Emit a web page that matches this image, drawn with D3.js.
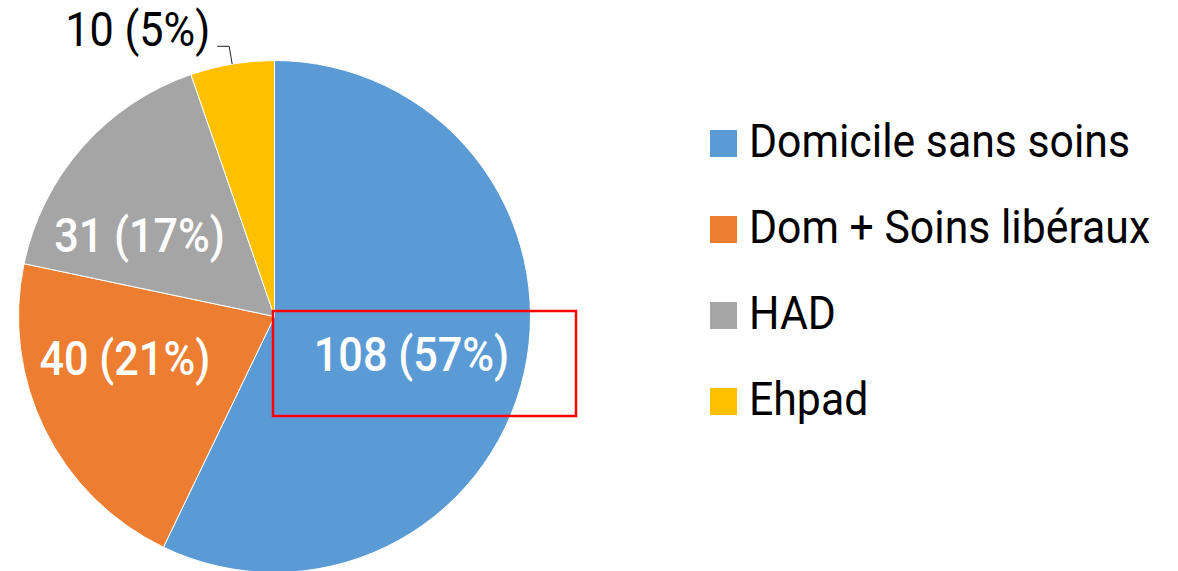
<!DOCTYPE html>
<html>
<head>
<meta charset="utf-8">
<script src="https://cdn.jsdelivr.net/npm/d3@7"></script>
<style>
  body { margin: 0; background: #fff; }
  text { font-family: Roboto, "Liberation Sans", sans-serif; }
</style>
</head>
<body>
<script>
// data
var categories = ["Domicile sans soins", "Dom + Soins libéraux", "HAD", "Ehpad"];
var values = [108, 40, 31, 10];
var percentLabels = ["57%", "21%", "17%", "5%"];
var colors = ["#5B9BD5", "#ED7D31", "#A5A5A5", "#FFC000"];

// layout
var svgWidth = 1178;
var svgHeight = 571;
var cx = 274.5, cy = 316.5, radius = 256;
var labelRadius = 160;
// small nudges of the inside labels (Excel "best fit")
var labelNudge = [[-19, 2], [-6, -29], [-15, 24], [0, 0]];
var textScale = 0.9;
var legendScale = 0.93;

var svg = d3.select("body")
  .append("svg")
  .attr("width", svgWidth)
  .attr("height", svgHeight);

var pieGroup = svg.append("g")
  .attr("transform", `translate(${cx}, ${cy})`);

var pie = d3.pie().sort(null).value(d => d);
var arcs = pie(values);

var arc = d3.arc().innerRadius(0).outerRadius(radius);
var labelArc = d3.arc().innerRadius(labelRadius).outerRadius(labelRadius);

pieGroup.selectAll(".slice")
  .data(arcs)
  .enter()
  .append("path")
  .attr("class", "slice")
  .attr("d", arc)
  .attr("fill", (d, i) => colors[i])
  .attr("stroke", "#fff")
  .attr("stroke-width", 1);

// inside labels
arcs.forEach(function(d, i) {
  if (i === 3) return;
  var c = labelArc.centroid(d);
  var x = c[0] + labelNudge[i][0];
  var y = c[1] + labelNudge[i][1];
  pieGroup.append("g")
    .attr("transform", `translate(${x}, ${y + 17})`)
    .append("text")
    .attr("transform", `scale(${textScale}, 1)`)
    .attr("text-anchor", "middle")
    .attr("font-size", 48)
    .attr("font-weight", 500)
    .attr("fill", "#fff")
    .text(`${values[i]} (${percentLabels[i]})`);
});

// outside label for the small slice, with leader line
var small = arcs[3];
var mid = (small.startAngle + small.endAngle) / 2;
var edge = [radius * Math.sin(mid), -radius * Math.cos(mid)];
var elbow = [(radius + 18) * Math.sin(mid), -(radius + 18) * Math.cos(mid)];
var tail = [elbow[0] - 12, elbow[1]];

pieGroup.append("polyline")
  .attr("points", [edge, elbow, tail].map(p => p.join(",")).join(" "))
  .attr("fill", "none")
  .attr("stroke", "#222")
  .attr("stroke-width", 1);

pieGroup.append("g")
  .attr("transform", `translate(${tail[0] - 7}, ${tail[1]})`)
  .append("text")
  .attr("transform", `scale(${textScale}, 1)`)
  .attr("text-anchor", "end")
  .attr("font-size", 48)
  .attr("fill", "#000")
  .text(`${values[3]} (${percentLabels[3]})`);

// legend
var legendY = d3.scalePoint()
  .domain(categories)
  .range([157, 415]);

var legend = svg.append("g");

var item = legend.selectAll(".item")
  .data(categories)
  .enter()
  .append("g")
  .attr("class", "item")
  .attr("transform", d => `translate(710, ${legendY(d)})`);

item.append("rect")
  .attr("x", 0)
  .attr("y", -27)
  .attr("width", 27)
  .attr("height", 27)
  .attr("fill", (d, i) => colors[i]);

item.append("g")
  .attr("transform", "translate(39, 0)")
  .append("text")
  .attr("transform", `scale(${legendScale}, 1)`)
  .attr("font-size", 46)
  .attr("fill", "#000")
  .text(d => d);

// red highlight box
svg.append("rect")
  .attr("x", 273)
  .attr("y", 311)
  .attr("width", 303)
  .attr("height", 105)
  .attr("fill", "none")
  .attr("stroke", "#FF0000")
  .attr("stroke-width", 2.5);
</script>
</body>
</html>
